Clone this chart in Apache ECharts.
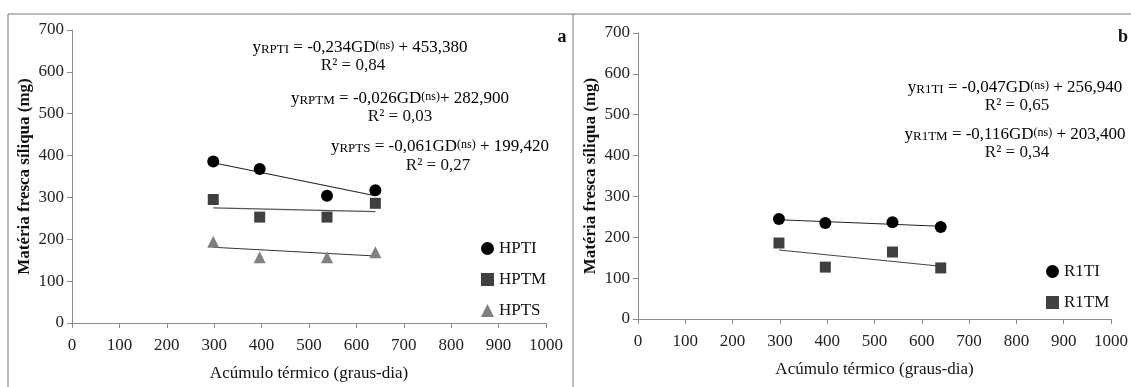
<!DOCTYPE html>
<html>
<head>
<meta charset="utf-8">
<script src="https://cdn.jsdelivr.net/npm/echarts@6/dist/echarts.min.js"></script>
<style>
  html, body { margin: 0; padding: 0; background: #fff; }
  #chart { width: 1131px; height: 387px; }
</style>
</head>
<body>
<div id="chart"></div>
<script>
// x positions (graus-dia)
const gd = [298, 396, 538, 640];
const trendX = [298, 640];

// panel a
const hpti = [386, 368, 304, 317];
const hptm = [295, 253, 253, 286];
const hpts = [194, 157, 157, 169];
const hptiTrend = [383, 304];
const hptmTrend = [275, 266];
const hptsTrend = [181, 160];

// panel b
const r1ti = [245, 235, 237, 225];
const r1tm = [186, 127, 164, 125];
const r1tiTrend = [243, 227];
const r1tmTrend = [169, 129];

const yTicks = [0, 700, 100];
const xTicks = [0, 1000, 100];

const font = "Liberation Serif";
const pair = (xs, ys) => xs.map((x, i) => [x, ys[i]]);

const chart = echarts.init(document.getElementById("chart"));

const axisX = (gi) => ({
  type: "value",
  gridIndex: gi,
  min: xTicks[0],
  max: xTicks[1],
  interval: xTicks[2],
  name: "Acúmulo térmico (graus-dia)",
  nameLocation: "middle",
  nameGap: 42,
  nameTextStyle: { fontFamily: font, fontSize: 17, color: "#111" },
  axisLine: { lineStyle: { color: "#8c8c8c" } },
  axisTick: { inside: false, length: 5, lineStyle: { color: "#8c8c8c" } },
  axisLabel: { fontFamily: font, fontSize: 17, color: "#222", margin: 14, formatter: (v) => String(v) },
  splitLine: { show: false },
});

const axisY = (gi) => ({
  type: "value",
  gridIndex: gi,
  min: yTicks[0],
  max: yTicks[1],
  interval: yTicks[2],
  name: "Matéria fresca síliqua (mg)",
  nameLocation: "middle",
  nameGap: 39,
  nameTextStyle: { fontFamily: font, fontSize: 17, fontWeight: "bold", color: "#111" },
  axisLine: { show: true, lineStyle: { color: "#8c8c8c" } },
  axisTick: { show: true, length: 5, lineStyle: { color: "#8c8c8c" } },
  axisLabel: { fontFamily: font, fontSize: 17, color: "#222", margin: 8 },
  splitLine: { show: false },
});

const scatter = (name, data, symbol, color, gi) => ({
  name,
  type: "scatter",
  xAxisIndex: gi,
  yAxisIndex: gi,
  symbol,
  symbolSize: symbol === "rect" ? 11 : 12,
  itemStyle: { color, opacity: 1 },
  data,
  z: 3,
});

const trend = (data, color, gi) => ({
  type: "line",
  xAxisIndex: gi,
  yAxisIndex: gi,
  symbol: "none",
  lineStyle: { color, width: 1.1 },
  data,
  silent: true,
  z: 2,
});

const plain = (x, y, text, opts = {}) => ({
  type: "text",
  x,
  y,
  style: {
    text,
    fontFamily: font,
    fontSize: opts.size || 17,
    fontWeight: opts.bold ? "bold" : "normal",
    fill: "#111",
    align: opts.align || "center",
    verticalAlign: "middle",
  },
});

const eq = (x, y, sub, body, tail) => ({
  type: "text",
  x,
  y,
  style: {
    text: `{t|y}{s|${sub}}{t| = ${body}GD}{p|(ns)}{t|${tail}}`,
    align: "center",
    verticalAlign: "middle",
    rich: {
      t: { fontFamily: font, fontSize: 17, color: "#111" },
      s: { fontFamily: font, fontSize: 13, color: "#111", verticalAlign: "bottom" },
      p: { fontFamily: font, fontSize: 12, color: "#111", verticalAlign: "top" },
    },
  },
});

chart.setOption({
  animation: false,
  backgroundColor: "#fff",
  grid: [
    { left: 72, top: 30, width: 474, height: 299 },
    { left: 638, top: 33, width: 475, height: 286 },
  ],
  xAxis: [axisX(0), axisX(1)],
  yAxis: [axisY(0), axisY(1)],
  legend: [
    {
      data: ["HPTI", "HPTM", "HPTS"],
      orient: "vertical",
      left: 476,
      top: 235,
      itemGap: 14,
      itemWidth: 13,
      itemHeight: 13,
      textStyle: { fontFamily: font, fontSize: 17, color: "#111" },
    },
    {
      data: ["R1TI", "R1TM"],
      orient: "vertical",
      left: 1041,
      top: 258,
      itemGap: 14,
      itemWidth: 13,
      itemHeight: 13,
      textStyle: { fontFamily: font, fontSize: 17, color: "#111" },
    },
  ],
  graphic: [
    {
      type: "polyline",
      shape: { points: [[8, 387], [8, 14], [1131, 14]] },
      style: { stroke: "#777", lineWidth: 1, fill: null },
    },
    {
      type: "line",
      shape: { x1: 573, y1: 14, x2: 573, y2: 387 },
      style: { stroke: "#777", lineWidth: 1 },
    },
    plain(562, 37, "a", { bold: true, size: 18 }),
    plain(1123, 37, "b", { bold: true, size: 18 }),
    eq(360, 48, "RPTI", "-0,234", " + 453,380"),
    plain(353, 66, "R² = 0,84"),
    eq(400, 99, "RPTM", "-0,026", "+ 282,900"),
    plain(400, 117, "R² = 0,03"),
    eq(440, 147, "RPTS", "-0,061", " + 199,420"),
    plain(438, 166, "R² = 0,27"),
    eq(1015, 88, "R1TI", "-0,047", " + 256,940"),
    plain(1017, 106, "R² = 0,65"),
    eq(1015, 135, "R1TM", "-0,116", " + 203,400"),
    plain(1017, 153, "R² = 0,34"),
  ],
  series: [
    trend(pair(trendX, hptiTrend), "#222", 0),
    trend(pair(trendX, hptmTrend), "#555", 0),
    trend(pair(trendX, hptsTrend), "#333", 0),
    scatter("HPTI", pair(gd, hpti), "circle", "#000", 0),
    scatter("HPTM", pair(gd, hptm), "rect", "#404040", 0),
    scatter("HPTS", pair(gd, hpts), "triangle", "#808080", 0),
    trend(pair(trendX, r1tiTrend), "#222", 1),
    trend(pair(trendX, r1tmTrend), "#444", 1),
    scatter("R1TI", pair(gd, r1ti), "circle", "#000", 1),
    scatter("R1TM", pair(gd, r1tm), "rect", "#404040", 1),
  ],
});
</script>
</body>
</html>
